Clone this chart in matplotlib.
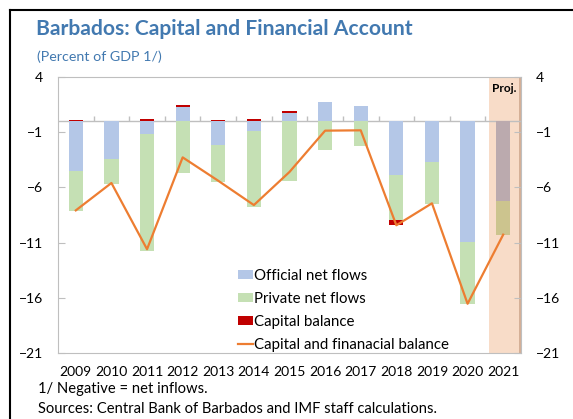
import matplotlib
matplotlib.use("Agg")
import matplotlib.pyplot as plt
from matplotlib.lines import Line2D
import numpy as np

plt.rcParams['font.family'] = ['Lato', 'DejaVu Sans']

years = ['2009', '2010', '2011', '2012', '2013', '2014', '2015',
         '2016', '2017', '2018', '2019', '2020', '2021']
official = [-4.55, -3.4, -1.2, 1.27, -2.12, -0.91, 0.76, 1.73, 1.36, -4.85, -3.67, -10.94, -7.27]
private = [-3.63, -2.25, -10.58, -4.73, -3.39, -6.88, -5.45, -2.64, -2.24, -4.06, -3.82, -5.63, -3.06]
capital = [0.1, 0.05, 0.18, 0.18, 0.1, 0.18, 0.18, 0.05, 0.05, -0.52, 0.05, 0.03, 0.05]
cap_fin = [-8.08, -5.6, -11.6, -3.28, -5.4, -7.6, -4.6, -0.86, -0.83, -9.43, -7.44, -16.54, -10.28]
proj_start = 12  # index of first projected year

BLUE, BLUE_P = '#B4C7E7', '#BBAAAE'
GREEN, GREEN_P = '#C5E0B4', '#CCC48E'
RED, RED_P = '#C00000', '#D08A7A'
ORANGE = '#ED7D31'
SHADE = '#F8DCC8'
GRID = '#BFBFBF'
TITLE = '#4279B0'

fig = plt.figure(figsize=(5.73, 4.19), dpi=100)
ax = fig.add_axes([58 / 573, 1 - 353 / 419, 463 / 573, 276 / 419])

x = np.arange(len(years))
pos_bottom = np.zeros(len(years))
neg_bottom = np.zeros(len(years))
series = [(official, BLUE, BLUE_P, 'Official net flows'),
          (private, GREEN, GREEN_P, 'Private net flows'),
          (capital, RED, RED_P, 'Capital balance')]
handles = []
for vals, col, pcol, lab in series:
    vals = np.array(vals)
    bottoms = np.where(vals >= 0, pos_bottom, neg_bottom)
    colors = [pcol if i >= proj_start else col for i in range(len(vals))]
    bars = ax.bar(x, vals, bottom=bottoms, width=0.4, color=colors, label=lab, zorder=2)
    handles.append(bars)
    pos_bottom += np.where(vals >= 0, vals, 0)
    neg_bottom += np.where(vals < 0, vals, 0)

line, = ax.plot(x, cap_fin, color=ORANGE, lw=1.6, label='Capital and finanacial balance', zorder=4)
handles.append(line)

# projection shading
ax.axvspan(proj_start - 0.4, proj_start + 0.5, color=SHADE, zorder=0, lw=0)
ax.axvline(proj_start + 0.47, color='#CFA88E', lw=1.2, zorder=1)
ax.text(proj_start + 0.02, 3.0, 'Proj.', ha='center', va='center',
        fontsize=8.5, fontweight='bold', color='black', zorder=5)

# zero line with category ticks
ax.axhline(0, color=GRID, lw=1, zorder=1)
ax.vlines(x[:-1] + 0.5, 0, 0.45, color=GRID, lw=1, zorder=1)

ax.set_xlim(-0.5, 12.5)
ax.set_ylim(-21, 4)
ax.set_yticks([4, -1, -6, -11, -16, -21])
ax.set_xticks(x)
ax.set_xticklabels(years)
ax.tick_params(axis='x', length=0, pad=9, labelsize=10)
ax.tick_params(axis='y', direction='in', length=5, color=GRID, left=True, right=True,
               labelleft=True, labelright=True, pad=11, labelsize=10)
for s in ax.spines.values():
    s.set_color(GRID)

ax.legend(handles=handles, loc='upper left', bbox_to_anchor=(0.388, 0.305), frameon=False,
          fontsize=10.8, handlelength=1.0, handleheight=0.55, handletextpad=0.1,
          labelspacing=0.6, borderpad=0, borderaxespad=0)

fig.text(36 / 573, 1 - 29 / 419, 'Barbados: Capital and Financial Account',
         fontsize=15.2, fontweight='bold', color=TITLE, va='center')
fig.text(37 / 573, 1 - 57 / 419, '(Percent of GDP 1/)', fontsize=10.3,
         color=TITLE, va='center')
fig.text(38 / 573, 1 - 389 / 419, '1/ Negative = net inflows.', fontsize=10.6, va='center')
fig.text(38 / 573, 1 - 409 / 419, 'Sources: Central Bank of Barbados and IMF staff calculations.',
         fontsize=10.6, va='center')

# outer frame (top and left edges visible)
fig.add_artist(Line2D([10 / 573, 1], [1 - 10 / 419] * 2, color='black', lw=1.5,
                      transform=fig.transFigure))
fig.add_artist(Line2D([10 / 573] * 2, [0, 1 - 10 / 419], color='black', lw=1.5,
                      transform=fig.transFigure))

fig.savefig('out.png', dpi=100)
